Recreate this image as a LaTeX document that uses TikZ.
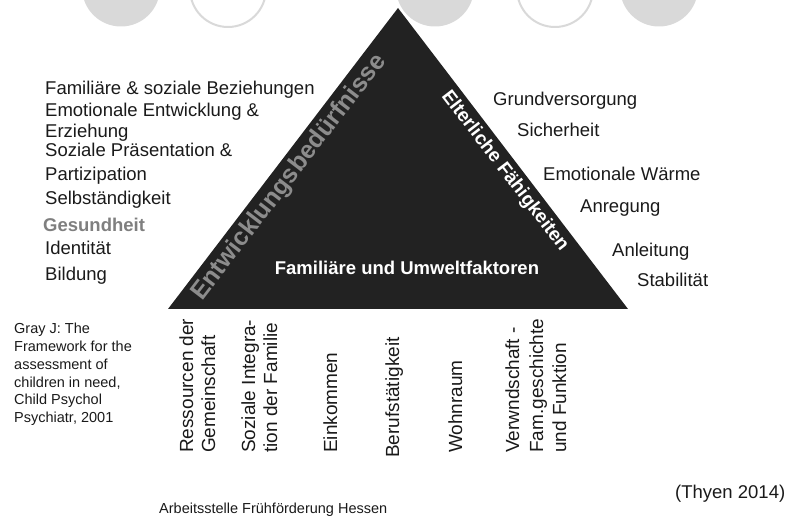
\documentclass[tikz,border=0pt]{standalone}
\usepackage{fontspec}
\setmainfont{Liberation Sans}
\definecolor{circgray}{HTML}{D9D9D9}
\definecolor{trifill}{HTML}{222222}
\definecolor{needgray}{HTML}{8C8C8C}
\definecolor{healthgray}{HTML}{7F7F7F}
\definecolor{ink}{HTML}{1A1A1A}
\begin{document}
\begin{tikzpicture}[x=1pt,y=-1pt,
  lbl/.style={anchor=base west, inner sep=0pt, font=\fontsize{18.5}{22}\selectfont, text=ink},
  refl/.style={anchor=base west, inner sep=0pt, font=\fontsize{14.5}{17}\selectfont, text=ink},
  vlbl/.style={anchor=base west, inner sep=0pt, rotate=90, font=\fontsize{19}{22}\selectfont, text=ink},
  disc/.style={fill=circgray, draw=none},
  ring/.style={draw=circgray, line width=2pt, fill=white}]
\useasboundingbox (0,0) rectangle (798,518);
\begin{scope}
\clip (0,0) rectangle (798,518);
\path[disc] (121,-12.5) circle[radius=39pt];
\path[ring] (228,-11) circle[radius=38pt];
\path[disc] (435,-12.5) circle[radius=39pt];
\path[ring] (555,-11) circle[radius=38pt];
\path[disc] (659,-12.5) circle[radius=39pt];
\end{scope}
% triangle
\coordinate (apex) at (398,8);
\coordinate (bl) at (168,309);
\coordinate (br) at (628,309);
\fill[trifill] (apex) -- (bl) -- (br) -- cycle;
\node[anchor=base west, inner sep=0pt, rotate=52.5, font=\bfseries\fontsize{25}{30}\selectfont, text=needgray] (needs) at (202,302) {Entwicklungsbedürfnisse};
\node[anchor=base west, inner sep=0pt, rotate=-52.5, font=\bfseries\fontsize{19}{22}\selectfont, text=white] (parents) at (441,96) {Elterliche Fähigkeiten};
\node[anchor=base, inner sep=0pt, font=\bfseries\fontsize{18.5}{22}\selectfont, text=white] (env) at (407,275) {Familiäre und Umweltfaktoren};
% left list
\node[lbl] (l1) at (45,95) {Familiäre \& soziale Beziehungen};
\node[lbl] (l2) at (45,117) {Emotionale Entwicklung \&};
\node[lbl] (l3) at (45,138) {Erziehung};
\node[lbl] (l4) at (45,157) {Soziale Präsentation \&};
\node[lbl] (l5) at (45,181) {Partizipation};
\node[lbl] (l6) at (45,205) {Selbständigkeit};
\node[lbl, font=\bfseries\fontsize{18.5}{22}\selectfont, text=healthgray] (l7) at (43,232) {Gesundheit};
\node[lbl] (l8) at (45,255) {Identität};
\node[lbl] (l9) at (45,281) {Bildung};
% right list
\node[lbl] (r1) at (493,106) {Grundversorgung};
\node[lbl] (r2) at (517,137) {Sicherheit};
\node[lbl] (r3) at (543,181) {Emotionale Wärme};
\node[lbl] (r4) at (580,213) {Anregung};
\node[lbl] (r5) at (612,257) {Anleitung};
\node[lbl] (r6) at (637,287) {Stabilität};
% reference
\node[refl] (g1) at (14,334) {Gray J: The};
\node[refl] (g2) at (14,351.7) {Framework for the};
\node[refl] (g3) at (14,369.4) {assessment of};
\node[refl] (g4) at (14,387.1) {children in need,};
\node[refl] (g5) at (14,404.8) {Child Psychol};
\node[refl] (g6) at (14,422.5) {Psychiatr, 2001};
% bottom factors
\node[vlbl] (b1a) at (193,453) {Ressourcen der};
\node[vlbl] (b1b) at (215,453) {Gemeinschaft};
\node[vlbl] (b2a) at (255,453) {Soziale Integra-};
\node[vlbl] (b2b) at (277,453) {tion der Familie};
\node[vlbl] (b3) at (337,453) {Einkommen};
\node[vlbl] (b4) at (399,458) {Berufstätigkeit};
\node[vlbl] (b5) at (462,453) {Wohnraum};
\node[vlbl] (b6a) at (519,453) {Verwndschaft -};
\node[vlbl] (b6b) at (543,453) {Fam.geschichte};
\node[vlbl] (b6c) at (566,453) {und Funktion};
% footer
\node[refl] (org) at (159,513) {Arbeitsstelle Frühförderung Hessen};
\node[lbl] (cite) at (675,498) {(Thyen 2014)};
\end{tikzpicture}
\end{document}
